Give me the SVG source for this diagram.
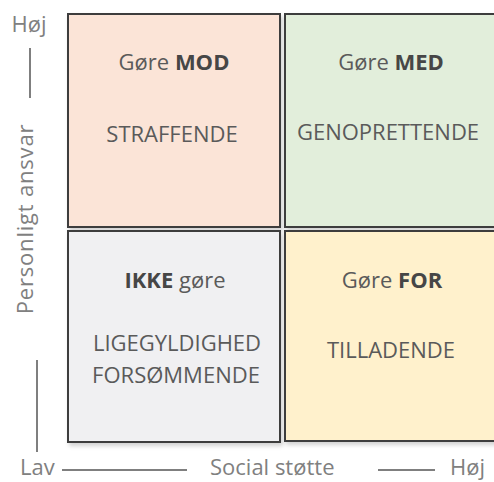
<svg xmlns="http://www.w3.org/2000/svg" width="494" height="482" viewBox="0 0 494 482">
<defs>
<style>
.box{stroke:#3c3c3c;stroke-width:2;filter:url(#sh)}
.t{font-family:"Open Sans","DejaVu Sans",sans-serif;font-size:22px;fill:#5a5a5a;text-anchor:middle}
.b{font-weight:bold;fill:#464646}
.ax{font-family:"Open Sans","DejaVu Sans",sans-serif;font-size:22px;fill:#808080}
.ln{stroke:#555;stroke-width:1.5;fill:none}
</style>
<filter id="sh" x="-10%" y="-10%" width="130%" height="130%">
<feDropShadow dx="2" dy="3" stdDeviation="2" flood-color="#000" flood-opacity="0.18"/>
</filter>
</defs>
<rect width="494" height="482" fill="#fff"/>
<g id="mod">
<rect class="box" x="68" y="14" width="212" height="213" fill="#fbe4d7"/>
<text class="t" x="174" y="70">Gøre <tspan class="b">MOD</tspan></text>
<text class="t" x="172" y="142">STRAFFENDE</text>
</g>
<g id="med">
<rect class="box" x="285" y="14" width="215" height="213" fill="#e2eedb"/>
<text class="t" x="391" y="70">Gøre <tspan class="b">MED</tspan></text>
<text class="t" x="388" y="140">GENOPRETTENDE</text>
</g>
<g id="ikke">
<rect class="box" x="68" y="231" width="212" height="211" fill="#f0f0f2"/>
<text class="t" x="175" y="288"><tspan class="b">IKKE</tspan> gøre</text>
<text class="t" x="177" y="351">LIGEGYLDIGHED</text>
<text class="t" x="176" y="383">FORSØMMENDE</text>
</g>
<g id="for">
<rect class="box" x="285" y="231" width="215" height="210" fill="#fff1cc"/>
<text class="t" x="392" y="288">Gøre <tspan class="b">FOR</tspan></text>
<text class="t" x="391" y="358">TILLADENDE</text>
</g>
<g id="connectors">
<line class="ln" x1="30" y1="48" x2="30" y2="98"/>
<line class="ln" x1="37" y1="360" x2="37" y2="452"/>
<line class="ln" x1="62" y1="470" x2="187" y2="470"/>
<line class="ln" x1="378" y1="470" x2="435" y2="470"/>
</g>
<g id="axes">
<text class="ax" x="29" y="32" text-anchor="middle">Høj</text>
<text class="ax" transform="translate(33,219) rotate(-90)" text-anchor="middle" letter-spacing="0.8">Personligt ansvar</text>
<text class="ax" x="20" y="475">Lav</text>
<text class="ax" x="210" y="475">Social støtte</text>
<text class="ax" x="450" y="475">Høj</text>
</g>
</svg>
